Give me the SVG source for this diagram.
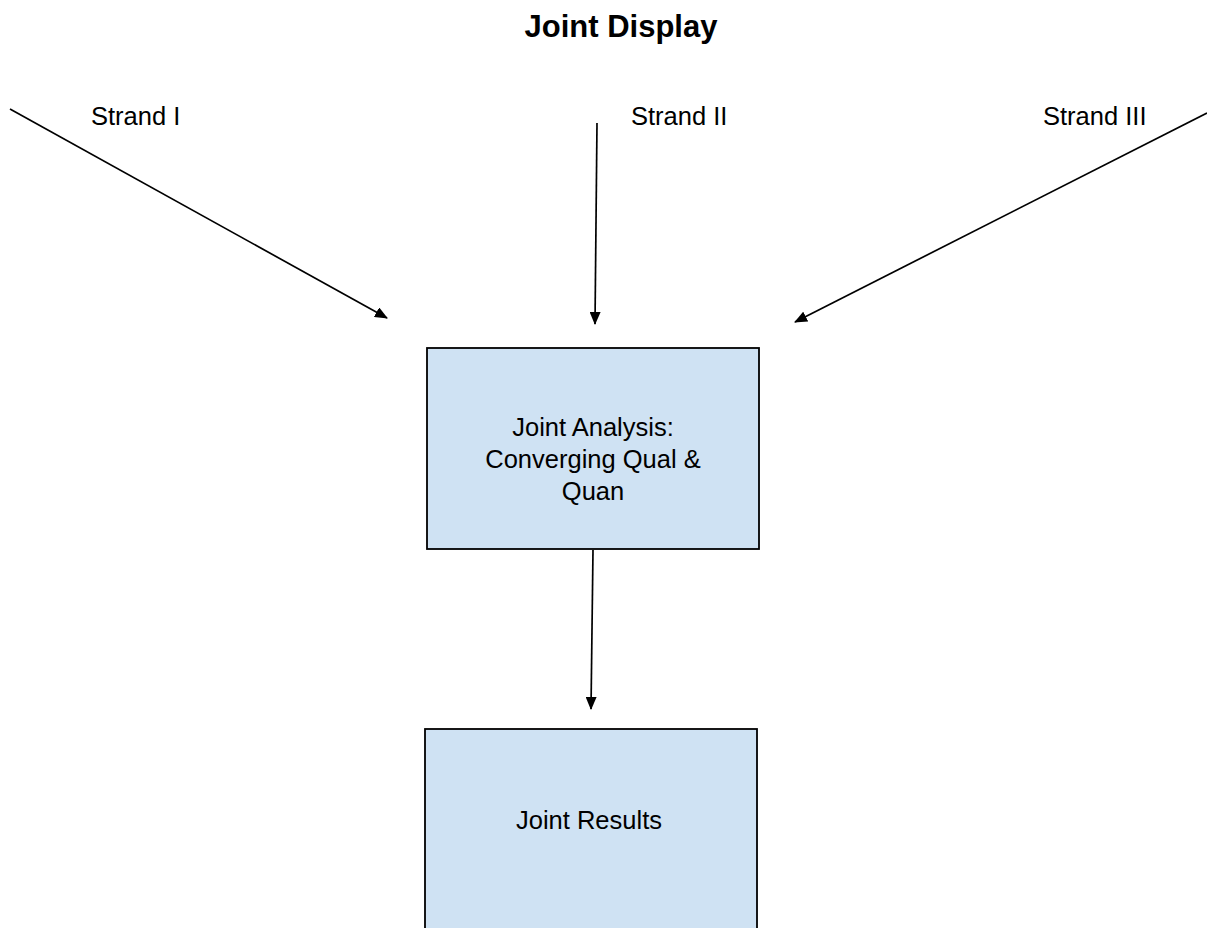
<svg xmlns="http://www.w3.org/2000/svg" width="1207" height="928" viewBox="0 0 1207 928">
<style>
.lbl{font-family:"Liberation Sans",Arial,sans-serif;font-size:25.5px;fill:#000}
.title{font-family:"Liberation Sans",Arial,sans-serif;font-size:31px;font-weight:bold;fill:#000}
.box{fill:#cfe2f3;stroke:#000;stroke-width:1.8}
.conn{stroke:#000;stroke-width:1.7;fill:none;marker-end:url(#arr)}
</style>
<defs>
<marker id="arr" markerUnits="userSpaceOnUse" markerWidth="14" markerHeight="11" refX="12" refY="5.5" orient="auto">
<path d="M0,0 L13,5.5 L0,11 Z" fill="#000"/>
</marker>
</defs>
<rect width="1207" height="928" fill="#fff"/>
<text class="title" x="621" y="37" text-anchor="middle">Joint Display</text>
<g id="strand1"><text class="lbl" x="91" y="125">Strand I</text></g>
<g id="strand2"><text class="lbl" x="631" y="125">Strand II</text></g>
<g id="strand3"><text class="lbl" x="1043" y="125">Strand III</text></g>
<g id="connectors">
<line class="conn" x1="10" y1="109" x2="387" y2="318"/>
<line class="conn" x1="597" y1="123" x2="595" y2="324"/>
<line class="conn" x1="1207" y1="113" x2="795" y2="322"/>
<line class="conn" x1="593" y1="550" x2="591" y2="709"/>
</g>
<g id="joint-analysis">
<rect class="box" x="427" y="348" width="332" height="201"/>
<text class="lbl" x="593" y="436" text-anchor="middle">Joint Analysis:</text>
<text class="lbl" x="593" y="468" text-anchor="middle">Converging Qual &amp;</text>
<text class="lbl" x="593" y="500" text-anchor="middle">Quan</text>
</g>
<g id="joint-results">
<rect class="box" x="425" y="729" width="332" height="220"/>
<text class="lbl" x="589" y="829" text-anchor="middle">Joint Results</text>
</g>
</svg>
